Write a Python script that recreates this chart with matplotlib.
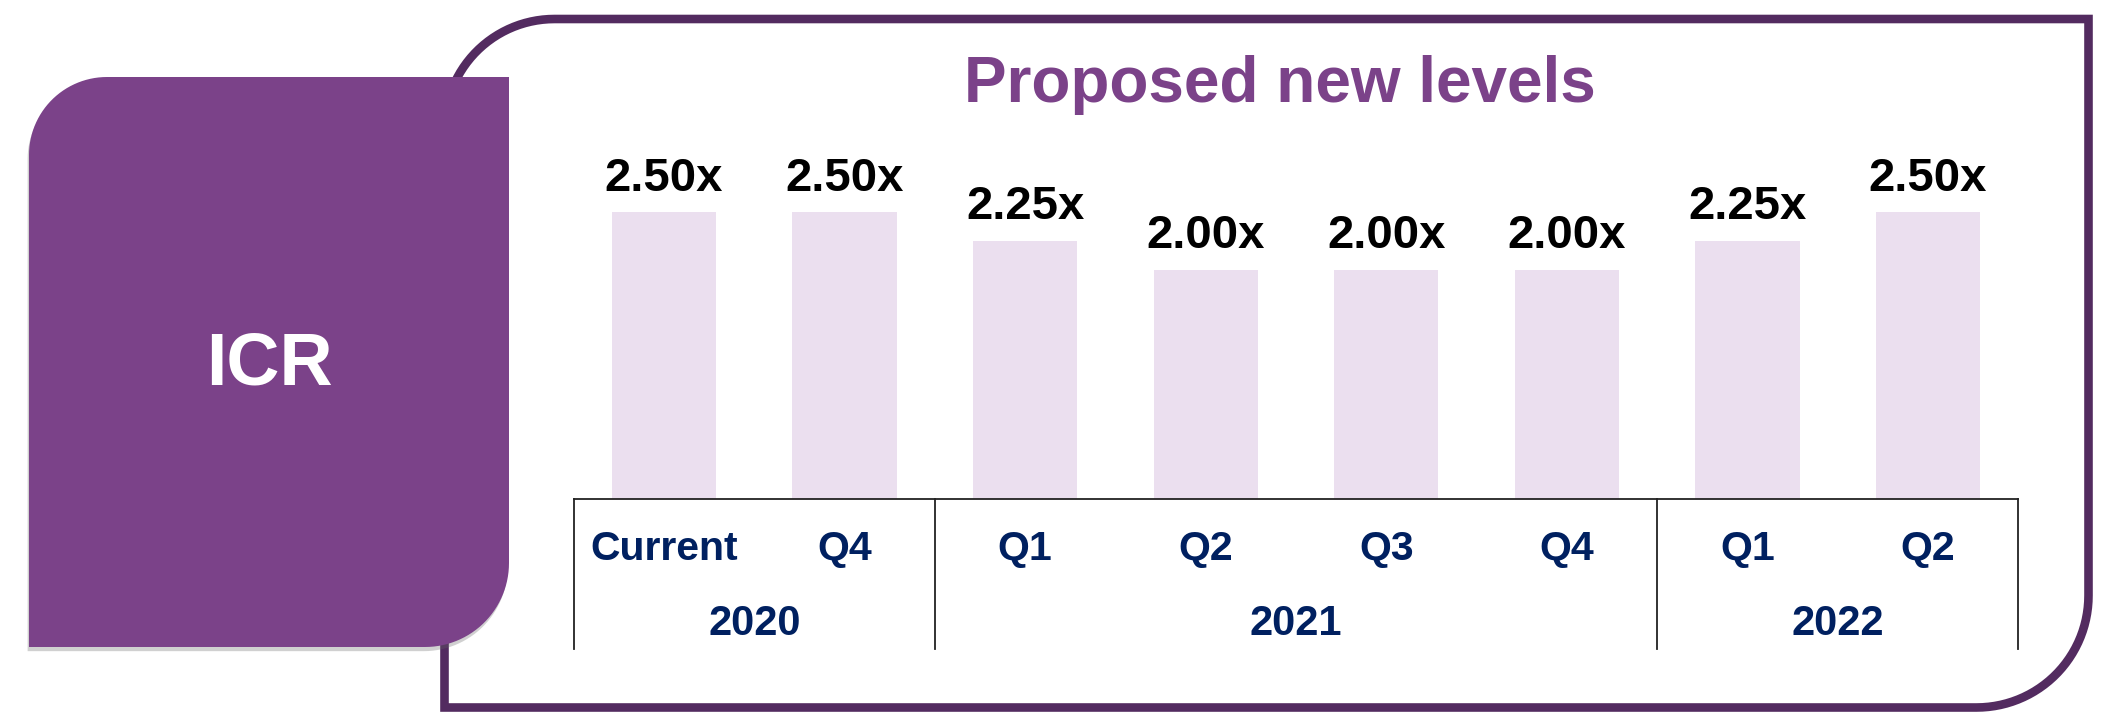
import matplotlib.pyplot as plt
import numpy as np
from matplotlib.patches import Polygon
import matplotlib.patheffects as pe

plt.rcParams['font.family'] = ['Liberation Sans', 'DejaVu Sans']

# data
quarters = ['Current', 'Q4', 'Q1', 'Q2', 'Q3', 'Q4', 'Q1', 'Q2']
values = [2.50, 2.50, 2.25, 2.00, 2.00, 2.00, 2.25, 2.50]
years = ['2020', '2021', '2022']
year_first = [0, 2, 6]
year_last = [1, 5, 7]

title = 'Proposed new levels'
side_label = 'ICR'

purple = '#7B4289'
frame_col = '#532B60'
bar_col = '#EBDFEF'
navy = '#002060'

W, H = 2102, 721
fig = plt.figure(figsize=[W / 100, H / 100], dpi=100)

# background layer in pixel coordinates
bg = fig.add_axes([0, 0, 1, 1])
bg.set_xlim(0, W)
bg.set_ylim(H, 0)
bg.axis('off')


def box_points(l, t, r, b, r_tl, r_br):
    a1 = np.linspace(np.pi, 1.5 * np.pi, 30)
    a2 = np.linspace(0, 0.5 * np.pi, 30)
    pts = [(l + r_tl + r_tl * np.cos(a), t + r_tl + r_tl * np.sin(a)) for a in a1]
    pts += [(r, t)]
    pts += [(r - r_br + r_br * np.cos(a), b - r_br + r_br * np.sin(a)) for a in a2]
    pts += [(l, b)]
    return pts


# outer frame
frame = Polygon(box_points(444.5, 19, 2088.5, 707.5, 110, 112), closed=True,
                facecolor='white', edgecolor=frame_col, linewidth=6.2, zorder=1)
bg.add_patch(frame)

# purple side box
side = Polygon(box_points(29, 77, 509, 647, 78, 84), closed=True,
               facecolor=purple, edgecolor='none', zorder=2)
side.set_path_effects([pe.SimplePatchShadow(offset=(-1, -3), shadow_rgbFace='#666666', alpha=0.3),
                       pe.Normal()])
bg.add_patch(side)
bg.text(269, 365, side_label, color='white', fontsize=53, fontweight='bold',
        ha='center', va='center', zorder=3)

bg.text(1280, 102, title, color=purple, fontsize=46, fontweight='bold',
        ha='center', va='baseline', zorder=3)

# bar chart
ax = fig.add_axes([573.7 / W, (H - 499) / H, 1444.6 / W, 400 / H])
ax.patch.set_alpha(0)
x = np.arange(len(values))
ax.bar(x, values, width=0.578, color=bar_col, zorder=1)
ax.set_xlim(-0.5, len(values) - 0.5)
ax.set_ylim(0, 3.487)
ax.axis('off')

for xi, v in zip(x, values):
    ax.annotate('%.2fx' % v, xy=(xi, v), xytext=(0, 15.5), textcoords='offset points',
                ha='center', va='baseline', fontsize=34, fontweight='bold', color='black')

# category table below the bars
tr = ax.get_xaxis_transform()
ax.plot([-0.5, len(values) - 0.5], [0, 0], color='#222222', linewidth=1.3,
        transform=tr, clip_on=False)
edges = [year_first[0] - 0.5] + [l + 0.5 for l in year_last]
for e in edges:
    ax.plot([e, e], [0, -0.375], color='#222222', linewidth=1.3,
            transform=tr, clip_on=False)

for xi, q in zip(x, quarters):
    ax.text(xi, -0.125, q, transform=tr, ha='center', va='center',
            fontsize=29.5, fontweight='bold', color=navy)

for y, f, l in zip(years, year_first, year_last):
    ax.text((f + l) / 2, -0.3125, y, transform=tr, ha='center', va='center',
            fontsize=30, fontweight='bold', color=navy)

plt.savefig('out.png', dpi=100, facecolor='white')
